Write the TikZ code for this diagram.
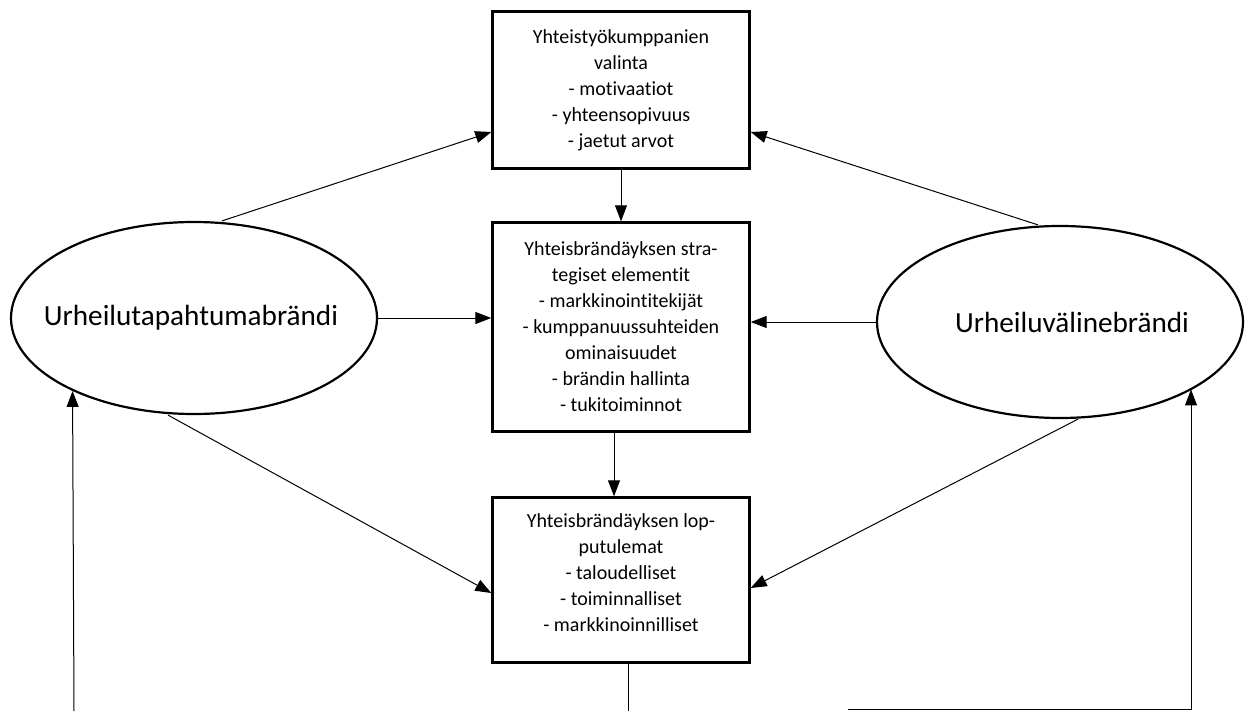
\documentclass[tikz,border=0pt]{standalone}
\usepackage{fontspec}
\setmainfont{Carlito}[Ligatures=NoCommon]
\usetikzlibrary{positioning, arrows.meta, shapes.geometric}

\begin{document}
\begin{tikzpicture}
    [
        x=0.5pt, y=-0.5pt, on grid, label distance=0pt,
        box_node/.style={rectangle, draw=black, line width=1.2pt, fill=white, minimum width=128.5pt, inner sep=0pt, align=center, font=\fontsize{10}{13}\selectfont},
        brand_node/.style={ellipse, draw=black, line width=1.1pt, minimum width=183pt, minimum height=96pt, inner sep=0pt},
        brand_text/.style={font=\fontsize{14.6}{17}\selectfont},
        link_arrow/.style={-{Triangle[length=8pt, width=6pt]}, line width=0.5pt, color=black},
        link_line/.style={line width=0.5pt, color=black},
    ]
        \useasboundingbox (0,0) rectangle (1245,711) ;
        \node[box_node, minimum height=78.5pt] (choice) at (621,90) {Yhteistyökumppanien\\valinta\\- motivaatiot\\- yhteensopivuus\\- jaetut arvot} ;
        \node[box_node, minimum height=104.5pt] (strategy) [below = 118.5pt of choice] {Yhteisbrändäyksen stra-\\tegiset elementit\\- markkinointitekijät\\- kumppanuussuhteiden\\ominaisuudet\\- brändin hallinta\\- tukitoiminnot} ;
        \node[box_node, minimum height=82.5pt] (outcome) [below = 126.5pt of strategy] {Yhteisbrändäyksen lop-\\putulemat\\- taloudelliset\\- toiminnalliset\\- markkinoinnilliset\\[-6pt]\mbox{}} ;
        \node[brand_node, label={[brand_text, xshift=-1.5pt]center:Urheilutapahtumabrändi}] (event) at (194,318) {} ;
        \node[brand_node, label={[brand_text, xshift=6pt]center:Urheiluvälinebrändi}] (gear) at (1060,322) {} ;
        \coordinate (event_foot) at (74,711) ;
        \coordinate (outcome_foot) at (628,711) ;
        \coordinate (gear_turn) at (848,709) ;
        \coordinate (gear_corner) at (1191,709) ;
        % brands to partner choice
        \draw[link_arrow] ([xshift=14pt]event.north) -- ([yshift=-21pt]choice.west) ;
        \draw[link_arrow] ([xshift=-11pt]gear.north) -- ([yshift=-21pt]choice.east) ;
        % main column
        \draw[link_arrow] (choice.south) -- (strategy.north) ;
        \draw[link_arrow] ([xshift=-3.5pt]strategy.south) -- ([xshift=-3.5pt]outcome.north) ;
        \draw[link_line] (outcome.south -| outcome_foot) -- (outcome_foot) ;
        % brands to strategy and outcome
        \draw[link_arrow] (event.east) -- (event.east -| strategy.west) ;
        \draw[link_arrow] (gear.west) -- (gear.west -| strategy.east) ;
        \draw[link_arrow] ([xshift=-13pt]event.south) -- ([yshift=-6.5pt]outcome.west) ;
        \draw[link_arrow] ([xshift=9pt]gear.south) -- ([yshift=-4pt]outcome.east) ;
        % feedback lines from below
        \draw[link_arrow] (event_foot) -- (event.211) ;
        \draw[link_arrow] (gear_turn) -- (gear_corner) -- (gear_corner |- gear.333) ;
    \end{tikzpicture}
\end{document}
